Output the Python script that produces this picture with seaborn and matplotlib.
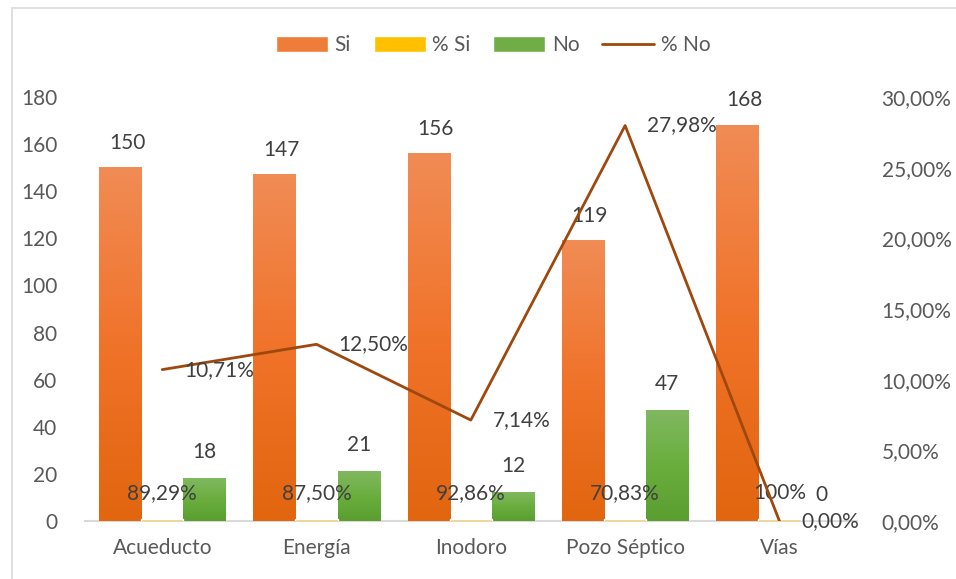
import numpy as np
import pandas as pd
import matplotlib
matplotlib.use('Agg')
import matplotlib.pyplot as plt
import seaborn as sns
from matplotlib.patches import Patch, Rectangle
from matplotlib.lines import Line2D
from matplotlib.colors import LinearSegmentedColormap

# -------------------------
# Data
# -------------------------
categories = ["Acueducto", "Energía", "Inodoro", "Pozo Séptico", "Vías"]
si_vals = [150, 147, 156, 119, 168]
pct_si = [0.8929, 0.8750, 0.9286, 0.7083, 1.0]
no_vals = [18, 21, 12, 47, 0]
pct_no = [0.1071, 0.1250, 0.0714, 0.2798, 0.0]

pct_si_labels = ["89,29%", "87,50%", "92,86%", "70,83%", "100%"]

# -------------------------
# Style
# -------------------------
sns.set_theme(style="white")
plt.rcParams['font.family'] = ['Lato', 'DejaVu Sans']
TEXT = "#595959"
LABEL = "#404040"
FS = 15

df = pd.DataFrame({
    "cat": categories * 3,
    "serie": ["Si"] * 5 + ["% Si"] * 5 + ["No"] * 5,
    "valor": si_vals + pct_si + no_vals,
})

fig = plt.figure(figsize=(9.56, 5.79), dpi=100)
ax = fig.add_axes([0.089, 0.1002, 0.807, 0.7323])

palette = {"Si": "#ED7D31", "% Si": "#FFC000", "No": "#70AD47"}
sns.barplot(data=df, x="cat", y="valor", hue="serie", palette=palette,
            width=0.82, gap=0, ax=ax, legend=False, saturation=1)

# gradient fill for Si and No bars
grads = {
    0: LinearSegmentedColormap.from_list("o", ["#E2650F", "#F0732A", "#F08C55"]),
    2: LinearSegmentedColormap.from_list("g", ["#5A9E30", "#6AAE3E", "#80B860"]),
}
grad = np.linspace(0, 1, 256).reshape(-1, 1)
for idx, cmap in grads.items():
    for bar in ax.containers[idx]:
        x0, y0 = bar.get_x(), bar.get_y()
        w, h = bar.get_width(), bar.get_height()
        if h <= 0:
            continue
        ax.imshow(grad, cmap=cmap, origin="lower", aspect="auto",
                  extent=(x0, x0 + w, y0, y0 + h), zorder=bar.get_zorder() + 0.1)

# make the thin % Si bars visible above the baseline
for bar in ax.containers[1]:
    bar.set_zorder(3)

ax.set_xlim(-0.5, 4.5)
ax.set_ylim(0, 180)
ax.set_yticks(range(0, 181, 20))
ax.set_xlabel("")
ax.set_ylabel("")
ax.tick_params(axis="both", length=0, labelsize=FS, colors=TEXT)
ax.tick_params(axis="x", pad=12)
ax.tick_params(axis="y", pad=20)
for s in ["top", "right", "left"]:
    ax.spines[s].set_visible(False)
ax.spines["bottom"].set_color("#D9D9D9")
ax.spines["bottom"].set_linewidth(1.5)
ax.spines["bottom"].set_zorder(0.5)

# data labels for bars
for bar, v in zip(ax.containers[0], si_vals):
    ax.annotate(str(v), (bar.get_x() + bar.get_width() / 2, v),
                xytext=(5, 18), textcoords="offset points",
                ha="center", va="center", fontsize=FS, color=LABEL)
for bar, lab in zip(ax.containers[1], pct_si_labels):
    ax.annotate(lab, (bar.get_x() + bar.get_width() / 2, 0),
                xytext=(0, 20), textcoords="offset points",
                ha="center", va="center", fontsize=FS, color=LABEL, zorder=10)
for bar, v in zip(ax.containers[2], no_vals):
    ax.annotate(str(v), (bar.get_x() + bar.get_width() / 2, v),
                xytext=(0, 19), textcoords="offset points",
                ha="center", va="center", fontsize=FS, color=LABEL)

# secondary axis: % No line
ax2 = ax.twinx()
xpos = np.arange(len(categories))
sns.lineplot(x=xpos, y=pct_no, ax=ax2, color="#9E480E", linewidth=2)
ax2.set_ylim(0, 0.30)
ax2.set_yticks(np.arange(0, 0.301, 0.05))
ax2.set_yticklabels([f"{t * 100:.2f}%".replace(".", ",") for t in np.arange(0, 0.301, 0.05)])
ax2.tick_params(axis="y", length=0, labelsize=FS, colors=TEXT, pad=18)
for s in ax2.spines.values():
    s.set_visible(False)
ax2.set_xlim(-0.5, 4.5)

for x, v in zip(xpos, pct_no):
    ax2.annotate(f"{v * 100:.2f}%".replace(".", ","), (x, v),
                 xytext=(16, 0), textcoords="offset points",
                 ha="left", va="center", fontsize=FS, color=LABEL)

# legend
handles = [
    Patch(facecolor="#EE7D3A", label="Si"),
    Patch(facecolor="#FFC000", label="% Si"),
    Patch(facecolor="#70AD47", label="No"),
    Line2D([0], [0], color="#9E480E", linewidth=2, label="% No"),
]
leg = fig.legend(handles=handles, loc="center", bbox_to_anchor=(0.516, 0.922),
                 ncol=4, frameon=False, fontsize=FS, handlelength=2.5,
                 handleheight=0.8, columnspacing=1.1, handletextpad=0.3)
for t in leg.get_texts():
    t.set_color(TEXT)

# chart border
fig.patches.append(Rectangle((0.0125, -0.01), 1.0, 0.996, transform=fig.transFigure,
                             fill=False, edgecolor="#D9D9D9", linewidth=1.2))

fig.savefig("out.png", dpi=100)
